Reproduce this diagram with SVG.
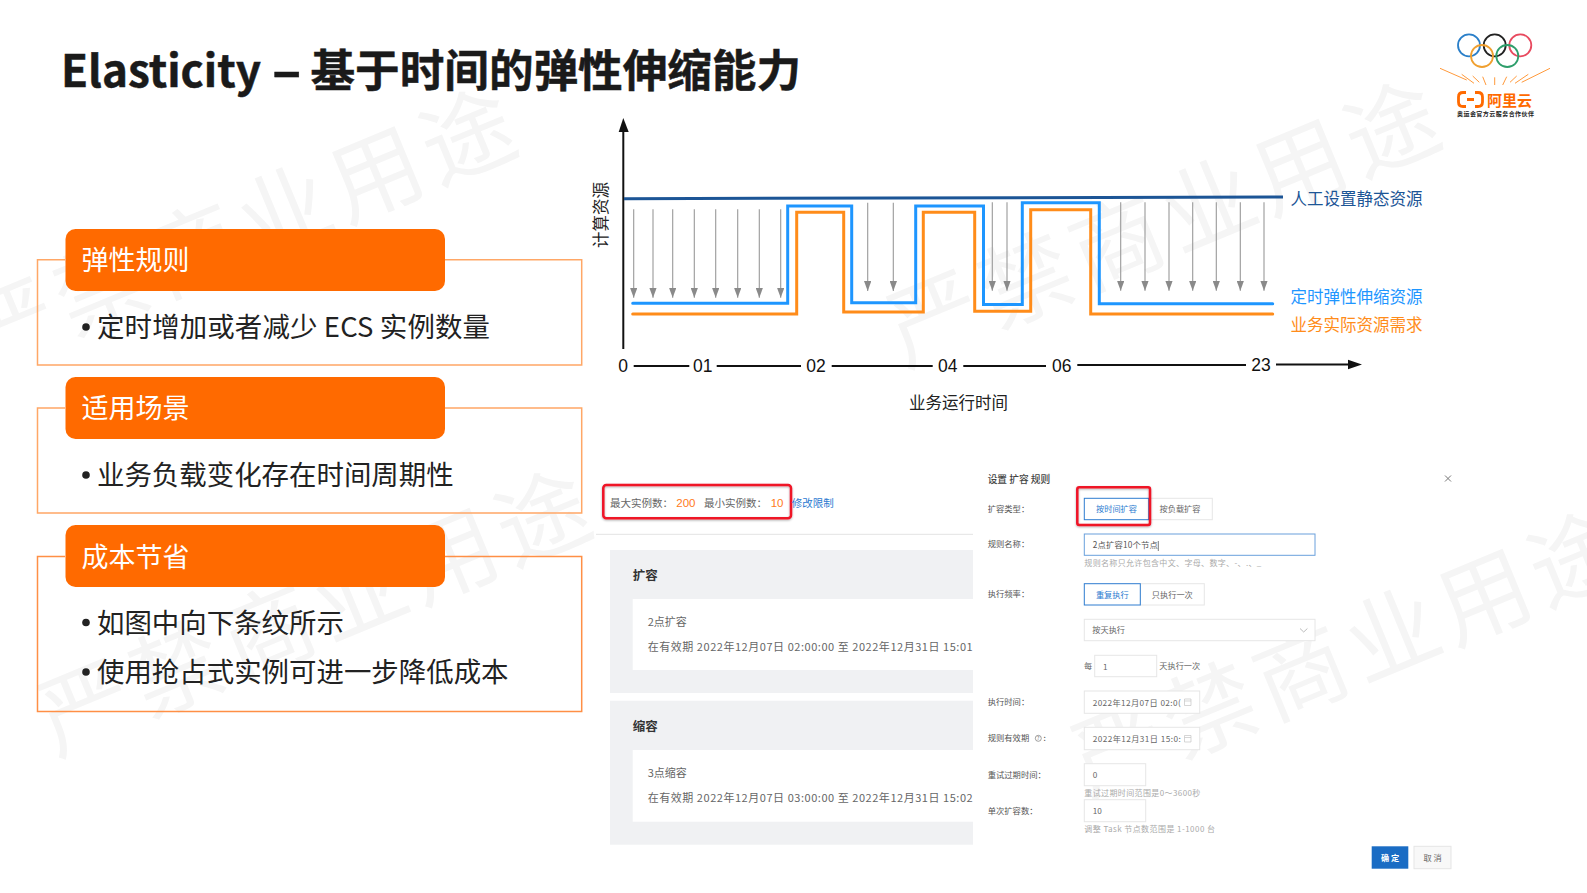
<svg xmlns="http://www.w3.org/2000/svg" width="1587" height="893" viewBox="0 0 1587 893">
<style>
text{font-family:"Noto Sans CJK SC","Liberation Sans",sans-serif}
.wm{font-size:92px;fill:#f5f5f5;letter-spacing:7px}
.outline{fill:none;stroke:#ffa766;stroke-width:1.5}
.hdr{fill:#ff6a00}
.hdrt{font-size:27px;fill:#fff}
.body{font-size:27.45px;fill:#222}
.ax{font-family:"Liberation Sans",sans-serif;font-size:17.5px;fill:#111;text-anchor:middle}
.seg{stroke:#111;stroke-width:1.8;fill:none}
.lab{font-size:16.5px}
.down{stroke:#999;stroke-width:1.1;fill:none;marker-end:url(#ga)}
.s{font-size:10.5px;fill:#666}
.o{font-family:"Liberation Sans",sans-serif;font-size:11.5px;fill:#ff7a1a}
.ph{font-size:12.5px;font-weight:700;fill:#333}
.p1{font-size:11px;fill:#666}
.d{font-size:8.3px;fill:#555}
.h{font-size:8px;fill:#aaa}
.i{fill:#fff;stroke:#e6e6e6;stroke-width:1}
.ia{fill:#fff;stroke:#2e7cd0;stroke-width:1}
.b{font-size:8.2px;fill:#2a7ad0;text-anchor:middle}
.g{font-size:8.2px;fill:#666;text-anchor:middle}
.st{text-anchor:start}
.cal{fill:none;stroke:#c4c4c4;stroke-width:.7}
.red{fill:none;stroke:#ef1227;stroke-width:2.5;filter:url(#sh)}
</style>
<defs>
<marker id="ga" markerUnits="userSpaceOnUse" markerWidth="10" markerHeight="7.4" refX="10" refY="3.7" orient="auto"><path d="M0,0L10,3.7L0,7.4Z" fill="#8a8a8a"/></marker>
<filter id="sh" x="-10%" y="-20%" width="120%" height="140%"><feDropShadow dx="0" dy="1" stdDeviation="1" flood-color="#000" flood-opacity=".3"/></filter>
</defs>
<rect width="1587" height="893" fill="#fff"/>
<g id="watermarks">
<text class="wm" transform="translate(-19.5 374.5) rotate(-22.5)">严禁商业用途</text>
<text class="wm" transform="translate(55.5 756) rotate(-22.5)">严禁商业用途</text>
<text class="wm" transform="translate(904.5 367) rotate(-22.5)">严禁商业用途</text>
<text class="wm" transform="translate(1088.5 797) rotate(-22.5)">严禁商业用途</text>
</g>
<text id="title" fill="#1a1a1a" stroke="#1a1a1a" stroke-width=".5" font-weight="700"><tspan x="61" y="87" font-size="44">Elasticity</tspan><tspan x="272" y="90" font-size="54">–</tspan><tspan x="310.5" y="87" font-size="44.6">基于时间的弹性伸缩能力</tspan></text>
<g id="logo">
<g fill="none" stroke-width="1.8">
<circle cx="1469" cy="45.3" r="11" stroke="#2a7fc9"/><circle cx="1494.7" cy="45.3" r="11" stroke="#222"/><circle cx="1520.3" cy="45.3" r="11" stroke="#e84a5f"/><circle cx="1482" cy="56" r="11" stroke="#f0a030"/><circle cx="1507.3" cy="56" r="11" stroke="#2e9e6b"/>
</g>
<path d="M1440 68.3L1466.7 80M1461.7 74.3L1474 83.3M1472.7 76L1479.3 82.3M1482.7 76.7L1486 85M1494.7 77.3V85M1506.7 76.7L1502.7 85M1516.7 76L1510 82.3M1528.3 74.3L1515 83.3M1550 68.3L1521.7 82.3" stroke="#ff9a3c" stroke-width="1" fill="none"/>
<path d="M1466 92.5H1463Q1458.5 92.5 1458.5 97V102Q1458.5 106.5 1463 106.5H1466M1475 92.5H1478Q1482.5 92.5 1482.5 97V102Q1482.5 106.5 1478 106.5H1475M1467 99.5H1474" stroke="#ff6a00" stroke-width="2.8" fill="none"/>
<text x="1487" y="106" font-size="15" font-weight="700" fill="#ff6a00">阿里云</text>
<text x="1457" y="116" font-size="6" font-weight="700" fill="#222" textLength="77">奥运会官方云服务合作伙伴</text>
</g>
<g id="rule-box">
<path class="outline" d="M65 259.7H37.5V365H581.7V259.7H445"/>
<rect class="hdr" x="65.5" y="229" width="379.5" height="62" rx="10"/>
<text class="hdrt" x="81.5" y="269.5">弹性规则</text>
<circle cx="86" cy="327" r="3.8" fill="#222"/>
<text class="body" x="97" y="336.5" textLength="393">定时增加或者减少 ECS 实例数量</text>
</g>
<g id="scene-box">
<path class="outline" d="M65 408H37.5V513H581.7V408H445"/>
<rect class="hdr" x="65.5" y="377" width="379.5" height="62" rx="10"/>
<text class="hdrt" x="81.5" y="418">适用场景</text>
<circle cx="86" cy="475" r="3.8" fill="#222"/>
<text class="body" x="97" y="485">业务负载变化存在时间周期性</text>
</g>
<g id="cost-box">
<path class="outline" d="M65 556.6H37.5V711.5H581.7V556.6H445" style="stroke:#ff8f45"/>
<rect class="hdr" x="65.5" y="525" width="379.5" height="62" rx="10"/>
<text class="hdrt" x="81.5" y="567">成本节省</text>
<circle cx="86" cy="622.5" r="3.8" fill="#222"/>
<text class="body" x="97" y="632.5">如图中向下条纹所示</text>
<circle cx="86" cy="672" r="3.8" fill="#222"/>
<text class="body" x="97" y="682">使用抢占式实例可进一步降低成本</text>
</g>
<g id="chart">
<path d="M623.3 349V130" stroke="#111" stroke-width="2" fill="none"/>
<path d="M623.3 118L628.7 132H618.7Z" fill="#111"/>
<g id="connectors">
<path d="M624 198.7L1283 197" stroke="#1c5596" stroke-width="3" fill="none"/>
<path d="M632.7 303.3H787.7V206H851.7V302.7H915.7V206H983.5V304.5H1022.3V202.7H1099.3V303.7H1272.7" stroke="#1e96ff" stroke-width="3" fill="none" stroke-linecap="round"/>
<path d="M632.7 314H796.7V212.3H843.7V312H923.3V212.3H974.7V311.3H1030.7V209.7H1090.7V314H1272.7" stroke="#ff8c1a" stroke-width="3" fill="none" stroke-linecap="round"/>
<path class="down" d="M633.7 209.3V297.7"/><path class="down" d="M653 209.3V297.7"/><path class="down" d="M672.7 209.3V297.7"/><path class="down" d="M694.3 209.3V297.7"/><path class="down" d="M715.7 209.3V297.7"/><path class="down" d="M737.7 209.3V297.7"/><path class="down" d="M759.3 209.3V297.7"/><path class="down" d="M780.7 209.3V297.7"/>
<path class="down" d="M867.7 202.7V291"/><path class="down" d="M893.3 202.7V291"/>
<path class="down" d="M992.3 202.3V290.7"/><path class="down" d="M1007 202.3V290.7"/>
<path class="down" d="M1120.7 202.3V290.7"/><path class="down" d="M1145 202.3V290.7"/><path class="down" d="M1169 202.3V290.7"/><path class="down" d="M1192.7 202.3V290.7"/><path class="down" d="M1216.3 202.3V290.7"/><path class="down" d="M1240.3 202.3V290.7"/><path class="down" d="M1264 202.3V290.7"/>
<path class="seg" d="M633.7 366H689.3M716.7 366H801M831.7 366H932.7M963.3 366H1046M1077.3 365H1246M1276 364.5H1350"/>
<path d="M1362 364.5L1348 359.8V369.2Z" fill="#111"/>
</g>
<text class="ax" x="623" y="372">0</text><text class="ax" x="702.7" y="372">01</text><text class="ax" x="816" y="372">02</text><text class="ax" x="947.7" y="372">04</text><text class="ax" x="1061.7" y="371.5">06</text><text class="ax" x="1261" y="371">23</text>
<text x="0" y="0" font-size="16.5" fill="#222" transform="translate(607 248) rotate(-90)">计算资源</text>
<text class="lab" x="909" y="409" fill="#222">业务运行时间</text>
<text class="lab" x="1290.5" y="205" fill="#1c5596">人工设置静态资源</text>
<text class="lab" x="1290.5" y="302.5" fill="#1e96ff">定时弹性伸缩资源</text>
<text class="lab" x="1290.5" y="331" fill="#ff8c1a">业务实际资源需求</text>
</g>
<g id="rule-list">
<rect class="red" x="603.3" y="485" width="187.7" height="33.3" rx="3"/>
<text class="s" x="610" y="507">最大实例数：</text><text class="o" x="676.3" y="507">200</text>
<text class="s" x="704" y="507">最小实例数：</text><text class="o" x="770.7" y="507">10</text>
<text class="s" x="791.7" y="507" style="fill:#2a7ad0">修改限制</text>
<path d="M596 534.3H973" stroke="#e3e3e3" fill="none"/>
<rect x="610" y="550" width="363" height="143" fill="#f0f1f3"/>
<rect x="632.7" y="599" width="340.3" height="71" fill="#fff"/>
<text class="ph" x="632.7" y="580">扩容</text>
<text class="p1" x="647.7" y="626.3">2点扩容</text>
<text class="p1" x="647.7" y="650.7" textLength="325">在有效期 2022年12月07日 02:00:00 至 2022年12月31日 15:01</text>
<rect x="610" y="700.7" width="363" height="144" fill="#f0f1f3"/>
<rect x="632.7" y="750" width="340.3" height="71.7" fill="#fff"/>
<text class="ph" x="632.7" y="730.7">缩容</text>
<text class="p1" x="647.7" y="777">3点缩容</text>
<text class="p1" x="647.7" y="801.7" textLength="325">在有效期 2022年12月07日 03:00:00 至 2022年12月31日 15:02</text>
</g>
<g id="rule-dialog">
<text x="987.7" y="482.7" font-size="9.7" font-weight="500" fill="#444">设置 扩容 规则</text>
<path d="M1445 475.5L1451 481.5M1451 475.5L1445 481.5" stroke="#777" fill="none"/>
<text class="d" x="987.7" y="511.7">扩容类型：</text>
<rect class="i" x="1148.7" y="498.3" width="63.6" height="21.4"/>
<rect class="ia" x="1084.3" y="498.3" width="64.4" height="21.4"/>
<text class="b" x="1116.5" y="512">按时间扩容</text><text class="g" x="1180" y="512">按负载扩容</text>
<rect class="red" x="1077.3" y="487.3" width="72.7" height="37.7" rx="2"/>
<text class="d" x="987.7" y="547.3">规则名称：</text>
<rect x="1084.3" y="534" width="230.7" height="21.3" fill="#fff" stroke="#6aa0dc"/>
<text class="d" x="1092.7" y="547.5" textLength="65">2点扩容10个节点</text>
<path d="M1158.3 541V551" stroke="#444" stroke-width=".7" fill="none"/>
<text class="h" x="1084.3" y="566" textLength="177">规则名称只允许包含中文、字母、数字、-、.、_</text>
<text class="d" x="987.7" y="597">执行频率：</text>
<rect class="i" x="1140.3" y="583.7" width="64" height="21.3"/>
<rect class="ia" x="1084.3" y="583.7" width="56" height="21.3"/>
<text class="b" x="1112.3" y="597.5">重复执行</text><text class="g" x="1172.3" y="597.5">只执行一次</text>
<rect class="i" x="1084.3" y="619.3" width="230.7" height="21.4"/>
<text class="g st" x="1092.3" y="633">按天执行</text>
<path d="M1300 628.5L1303.7 632L1307.4 628.5" stroke="#bbb" fill="none"/>
<text class="g st" x="1084" y="669.3">每</text>
<rect class="i" x="1094.7" y="655.3" width="62" height="21.4"/>
<text class="g st" x="1103" y="669.5">1</text>
<text class="g st" x="1159.3" y="669.3">天执行一次</text>
<text class="d" x="987.7" y="705">执行时间：</text>
<rect class="i" x="1084.3" y="691" width="115.4" height="22.3"/>
<text class="g st" x="1092.7" y="706" textLength="88">2022年12月07日 02:0(</text>
<path class="cal" d="M1184.5 699H1191V705.5H1184.5ZM1184.5 701H1191"/>
<text class="d" x="987.7" y="741.3">规则有效期</text>
<circle cx="1038.3" cy="738.3" r="3" fill="none" stroke="#777" stroke-width=".7"/>
<text x="1038.3" y="740.2" font-size="5" fill="#777" text-anchor="middle">?</text>
<text class="d" x="1043.5" y="741.3">:</text>
<rect class="i" x="1084.3" y="727.3" width="115.4" height="22.4"/>
<text class="g st" x="1092.7" y="742" textLength="88">2022年12月31日 15:0:</text>
<path class="cal" d="M1184.5 735.5H1191V742H1184.5ZM1184.5 737.5H1191"/>
<text class="d" x="987.7" y="778">重试过期时间：</text>
<rect class="i" x="1084.3" y="763.7" width="61.4" height="22"/>
<text class="g st" x="1092.7" y="778">0</text>
<text class="h" x="1084.3" y="795.7" textLength="116">重试过期时间范围是0～3600秒</text>
<text class="d" x="987.7" y="813.7">单次扩容数：</text>
<rect class="i" x="1084.3" y="799.7" width="61.4" height="22"/>
<text class="g st" x="1092.7" y="814">10</text>
<text class="h" x="1084.3" y="831.7" textLength="130.7">调整 Task 节点数范围是 1-1000 台</text>
<rect x="1371.7" y="846.3" width="36.6" height="22.4" fill="#1a6cc4"/>
<text x="1390" y="861" font-size="8.2" font-weight="700" fill="#fff" text-anchor="middle">确 定</text>
<rect x="1414" y="846.3" width="37" height="22.4" fill="#f8f8f8" stroke="#e5e5e5"/>
<text class="g" x="1432.5" y="861">取 消</text>
</g>
</svg>
